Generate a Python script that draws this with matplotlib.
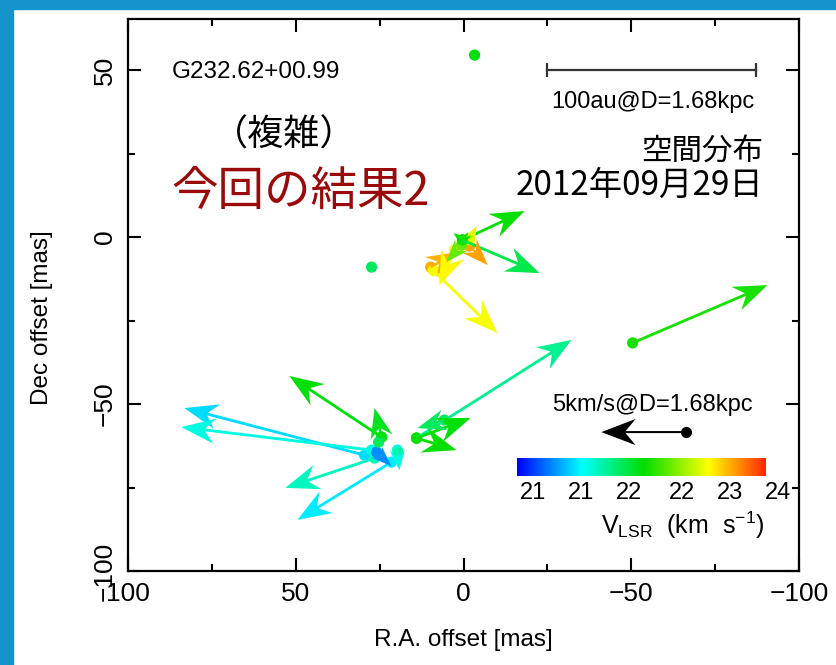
import numpy as np
import matplotlib
matplotlib.use("Agg")
import matplotlib.pyplot as plt
from matplotlib.colors import LinearSegmentedColormap, Normalize
from matplotlib.patches import Rectangle

# --- data (mas, km/s) ---
# maser spots without proper motion
dot_ra = [-3.3, 27.4, 25.3, 19.4]
dot_dec = [54.5, -9.0, -61.4, -64.7]
dot_v = [22.35, 22.1, 22.1, 21.9]

# spots with proper motion vectors (drawn offsets in mas)
pm_ra = [0.3, 0.3, -1.8, 9.8, 2.7, 9.0, 0.6, -1.8, 0.3, 0.3,
         -50.4, 14.0, 14.0, 14.0, 5.7, 24.4, 24.4, 29.5, 27.4, 26.5, 21.5, 25.9, 19.7]
pm_dec = [-0.9, -0.9, -2.7, -9.0, -3.9, -10.0, -2.4, -0.9, -0.9, -0.9,
          -31.7, -60.2, -60.2, -60.2, -54.8, -59.9, -59.9, -65.3, -63.8, -66.2, -67.4, -64.4, -63.8]
pm_dra = [-18.5, -23.0, -5.4, -8.0, 4.5, -19.1, 4.5, -2.1, 2.7, -1.8,
          -40.2, -46.2, -16.1, -11.9, 8.0, 27.5, 2.1, 53.7, 56.7, 26.6, 28.0, -4.4, -0.6]
pm_ddec = [8.7, -9.9, -5.7, 4.5, -10.5, -18.7, -5.1, 4.2, 2.1, 2.4,
           17.3, 29.4, 6.0, -3.6, -2.4, 18.3, 8.7, 14.1, 6.9, -8.9, -17.3, -4.2, -6.0]
pm_v = [22.4, 22.15, 23.5, 23.45, 23.2, 23.15, 22.7, 23.1, 22.4, 22.45,
        22.45, 21.95, 22.35, 22.4, 22.1, 22.35, 22.3, 21.5, 21.7, 21.8, 21.55, 21.25, 21.7]

v_min, v_max = 20.8, 23.9
cb_tick_vals = [21.0, 21.6, 22.2, 22.85, 23.45, 24.05]
cb_tick_labels = ["21", "21", "22", "22", "23", "24"]

# reference vector: 5 km/s at 1.68 kpc, and 100 au scale bar
ref_ra, ref_dec, ref_dra = -66.2, -58.4, 25.1
bar_ra = [-25.0, -87.3]
bar_dec = [50.0, 50.0]

cmap = LinearSegmentedColormap.from_list("vlsr", [
    (0.00, (0.0, 0.0, 1.0)),
    (0.26, (0.0, 1.0, 1.0)),
    (0.51, (0.0, 0.87, 0.0)),
    (0.77, (1.0, 1.0, 0.0)),
    (0.88, (1.0, 0.6, 0.0)),
    (1.00, (1.0, 0.15, 0.0)),
])
norm = Normalize(v_min, v_max)

SANS = ["Liberation Sans", "DejaVu Sans"]
CJK = ["Noto Sans CJK JP", "DejaVu Sans"]

fig = plt.figure(figsize=(8.36, 6.65), dpi=100)
# slide frame (blue strips left and top)
fig.patches.append(Rectangle((0, 0), 13 / 836, 1, transform=fig.transFigure, color="#1593cd", zorder=0))
fig.patches.append(Rectangle((0, 1 - 9 / 665), 1, 9 / 665, transform=fig.transFigure, color="#1593cd", zorder=0))

ax = fig.add_axes([128 / 836, 94 / 665, 671 / 836, 552 / 665])
ax.set_xlim(100, -100)
ax.set_ylim(-100, 65.3)

ax.quiver(pm_ra, pm_dec, pm_dra, pm_ddec, pm_v, cmap=cmap, norm=norm,
          angles="xy", scale_units="xy", scale=1, pivot="tail",
          width=0.0042, headwidth=9.0, headlength=12.0, headaxislength=8.5, zorder=3)
ax.scatter(pm_ra, pm_dec, c=pm_v, cmap=cmap, norm=norm, s=65, lw=0, zorder=2)
ax.scatter(dot_ra, dot_dec, c=dot_v, cmap=cmap, norm=norm, s=65, lw=0, zorder=2)

# reference arrow
ax.quiver([ref_ra], [ref_dec], [ref_dra], [0], color="black",
          angles="xy", scale_units="xy", scale=1, pivot="tail",
          width=0.003, headwidth=13, headlength=17, headaxislength=12, zorder=4)
ax.plot([ref_ra], [ref_dec], "o", color="black", ms=7, zorder=4)
ax.text(-56.3, -50.3, "5km/s@D=1.68kpc", ha="center", va="center", fontsize=17, family=SANS)

# 100 au scale bar
ax.plot(bar_ra, bar_dec, color="#333333", lw=1.6, marker="|", ms=10, mew=1.6)
ax.text(-56.3, 40.4, "100au@D=1.68kpc", ha="center", va="center", fontsize=17, family=SANS)

ax.text(87.0, 49.4, "G232.62+00.99", ha="left", va="center", fontsize=17.5, family=SANS)
ax.text(53.5, 30.5, "（複雑）", ha="center", va="center", fontsize=26, family=CJK)
ax.text(87.0, 13.5, "今回の結果2", ha="left", va="center", fontsize=33.5, color="#9b0a0a", family=CJK)
ax.text(-89.4, 25.4, "空間分布", ha="right", va="center", fontsize=22, family=CJK)
ax.text(-89.4, 15.4, "2012年09月29日", ha="right", va="center", fontsize=24, family=CJK)

ax.set_xticks([100, 50, 0, -50, -100])
ax.set_xticklabels(["100", "50", "0", "\u221250", "\u2212100"])
ax.set_yticks([50, 0, -50, -100])
ax.set_yticklabels(["50", "0", "\u221250", "\u2212100"], rotation=90, va="center")
ax.set_xticks([75, 25, -25, -75], minor=True)
ax.set_yticks([25, -25, -75], minor=True)
ax.tick_params(which="both", direction="in", top=True, right=True, width=1.5, labelsize=19)
ax.tick_params(which="major", length=9.5, pad=8)
ax.tick_params(which="minor", length=5)
for lab in ax.get_xticklabels() + ax.get_yticklabels():
    lab.set_family(SANS)
for sp in ax.spines.values():
    sp.set_linewidth(1.6)

fig.text(463 / 836, 1 - 640 / 665, "R.A. offset [mas]", ha="center", va="center", fontsize=17.5, family=SANS)
fig.text(42 / 836, 1 - 318 / 665, "Dec offset [mas]", ha="center", va="center", rotation=90, fontsize=17.5, family=SANS)

# colour bar
cax = fig.add_axes([517 / 836, 1 - 476 / 665, 249 / 836, 18 / 665])
grad = np.linspace(v_min, v_max, 256)[None, :]
cax.imshow(grad, aspect="auto", cmap=cmap, norm=norm, extent=[v_min, v_max, 0, 1])
cax.set_xlim(v_min, v_max)
cax.axis("off")
for tv, tl in zip(cb_tick_vals, cb_tick_labels):
    cax.text(tv, -0.35, tl, transform=cax.get_xaxis_transform(), ha="center", va="top",
             fontsize=17, family=SANS, clip_on=False)
fig.text(683 / 836, 1 - 525 / 665, r"V$_\mathregular{LSR}$  (km  s$^\mathregular{-1}$)",
         ha="center", va="center", fontsize=18, family=SANS)

fig.savefig("out.png", dpi=100)
